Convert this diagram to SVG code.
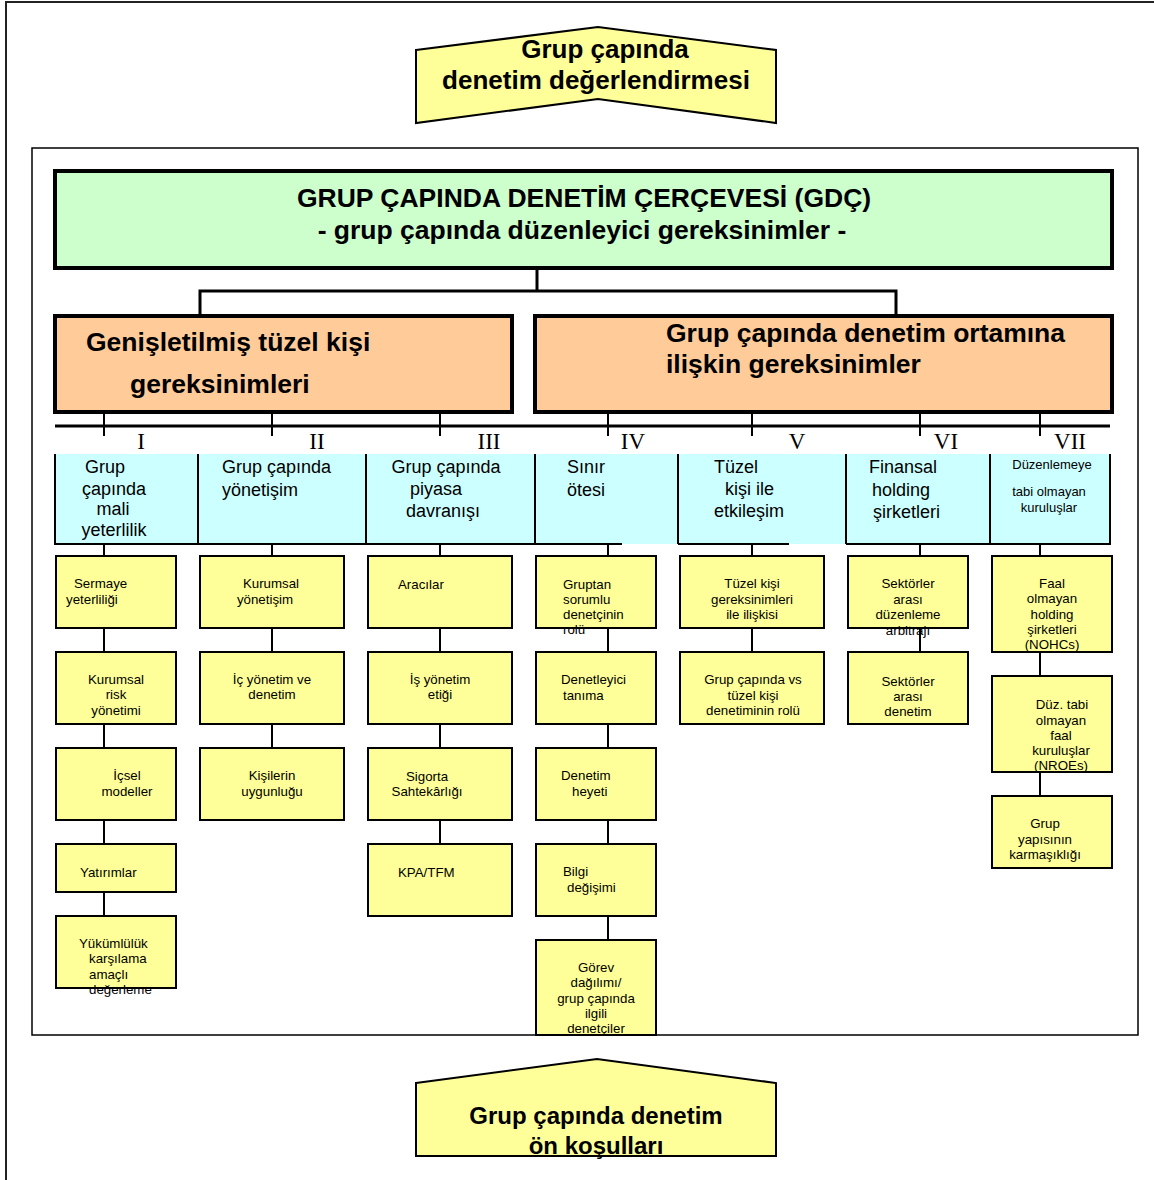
<svg xmlns="http://www.w3.org/2000/svg" width="1154" height="1180" viewBox="0 0 1154 1180">
  <style>
    text { font-family: "Liberation Sans", Arial, sans-serif; fill: #000; }
    .banner { fill: #FFFF99; stroke: #000; stroke-width: 2; }
    .bt { font-size: 26px; font-weight: bold; text-anchor: middle; }
    .bt2 { font-size: 24px; font-weight: bold; text-anchor: middle; }
    .top { fill: #CCFFCC; stroke: #000; stroke-width: 4; }
    .ht { font-size: 26.5px; font-weight: bold; text-anchor: middle; }
    .req { fill: #FFCC99; stroke: #000; stroke-width: 4; }
    .rt { font-size: 26.5px; font-weight: bold; }
    .conn { stroke: #000; stroke-width: 3; fill: none; }
    .thin { stroke: #000; stroke-width: 2; fill: none; }
    .roman { font-family: "Liberation Serif", "Times New Roman", serif; font-size: 23px; text-anchor: middle; }
    .ct { font-size: 18px; }
    .cts { font-size: 13px; text-anchor: middle; }
    .box { fill: #FFFF99; stroke: #000; stroke-width: 2; }
    .fill { fill: #FFFF99; stroke: none; }
    .edge { fill: none; stroke: #000; stroke-width: 2; }
    .t { font-size: 13.3px; }
    .m { text-anchor: middle; }
  </style>

  <!-- page borders -->
  <path d="M6,1180 V2 H1154" fill="none" stroke="#222" stroke-width="2"/>
  <rect x="32" y="148" width="1106" height="887" fill="none" stroke="#000" stroke-width="1.5"/>

  <!-- top banner -->
  <g id="assessment">
    <polygon class="banner" points="416,50 598,27 776,50 776,123 598,99 416,123"/>
    <text class="bt" x="605" y="58">Grup çapında</text>
    <text class="bt" x="596" y="89">denetim değerlendirmesi</text>
  </g>

  <!-- connectors -->
  <g id="connectors">
    <path class="conn" d="M537,268 V291 M200,316 V291 H896 V316"/>
    <path class="conn" d="M55,426 H1110" stroke-width="4"/>
    <path class="thin" d="M104,412 V436 M272,412 V436 M440,412 V436 M608,412 V436 M752,412 V436 M920,412 V436 M1040,412 V436"/>
    <path class="thin" d="M104,544 V916 M272,544 V748 M440,544 V844 M608,544 V940 M752,544 V652 M920,544 V652 M1040,544 V796"/>
  </g>

  <!-- framework header -->
  <g id="gdc">
    <rect class="top" x="55" y="171" width="1057" height="97"/>
    <text class="ht" x="584" y="207">GRUP ÇAPINDA DENETİM ÇERÇEVESİ (GDÇ)</text>
    <text class="ht" x="582" y="239">- grup çapında düzenleyici gereksinimler -</text>
  </g>

  <g id="legal-entity-req">
    <rect class="req" x="55" y="316" width="457" height="96"/>
    <text class="rt" x="86" y="351">Genişletilmiş tüzel kişi</text>
    <text class="rt" x="130" y="393">gereksinimleri</text>
  </g>

  <g id="environment-req">
    <rect class="req" x="535" y="316" width="577" height="96"/>
    <text class="rt" x="666" y="342">Grup çapında denetim ortamına</text>
    <text class="rt" x="666" y="373">ilişkin gereksinimler</text>
  </g>

  <!-- roman numerals -->
  <g id="numerals">
    <text class="roman" x="141" y="449">I</text>
    <text class="roman" x="317" y="449">II</text>
    <text class="roman" x="489" y="449">III</text>
    <text class="roman" x="633" y="449">IV</text>
    <text class="roman" x="797" y="449">V</text>
    <text class="roman" x="946" y="449">VI</text>
    <text class="roman" x="1070" y="449">VII</text>
  </g>

  <!-- column headers -->
  <g id="column-headers">
    <rect x="55" y="454" width="1055" height="90" fill="#CCFFFF"/>
    <path class="thin" d="M55,454 V544 H622 M678,544 H789 M846,544 H1110 V454 M198,454 V544 M366,454 V544 M535,454 V544 M678,454 V544 M846,454 V544 M990,454 V544"/>
  </g>
  <g id="col-1">
    <text class="ct m" x="105" y="473">Grup</text>
    <text class="ct m" x="114" y="495">çapında</text>
    <text class="ct m" x="113" y="515">mali</text>
    <text class="ct m" x="114" y="536">yeterlilik</text>
  </g>
  <g id="col-2">
    <text class="ct" x="222" y="473">Grup çapında</text>
    <text class="ct" x="222" y="496">yönetişim</text>
  </g>
  <g id="col-3">
    <text class="ct m" x="446" y="473">Grup çapında</text>
    <text class="ct m" x="436" y="495">piyasa</text>
    <text class="ct m" x="443" y="517">davranışı</text>
  </g>
  <g id="col-4">
    <text class="ct" x="567" y="473">Sınır</text>
    <text class="ct" x="567" y="496">ötesi</text>
  </g>
  <g id="col-5">
    <text class="ct" x="714" y="473">Tüzel</text>
    <text class="ct" x="725" y="495">kişi ile</text>
    <text class="ct" x="714" y="517">etkileşim</text>
  </g>
  <g id="col-6">
    <text class="ct" x="869" y="473">Finansal</text>
    <text class="ct" x="872" y="496">holding</text>
    <text class="ct" x="873" y="518">şirketleri</text>
  </g>
  <g id="col-7">
    <text class="cts" x="1052" y="469">Düzenlemeye</text>
    <text class="cts" x="1049" y="496">tabi olmayan</text>
    <text class="cts" x="1049" y="512">kuruluşlar</text>
  </g>

  <!-- column I -->
  <g id="sermaye">
    <rect class="box" x="56" y="556" width="120" height="72"/>
    <text class="t" x="74" y="588">Sermaye</text>
    <text class="t" x="66" y="604">yeterliliği</text>
  </g>
  <g id="risk">
    <rect class="box" x="56" y="652" width="120" height="72"/>
    <text class="t m" x="116" y="684">Kurumsal</text>
    <text class="t m" x="116" y="699">risk</text>
    <text class="t m" x="116" y="715">yönetimi</text>
  </g>
  <g id="icsel">
    <rect class="box" x="56" y="748" width="120" height="72"/>
    <text class="t m" x="127" y="780">İçsel</text>
    <text class="t m" x="127" y="796">modeller</text>
  </g>
  <g id="yatirimlar">
    <rect class="box" x="56" y="844" width="120" height="48"/>
    <text class="t" x="80" y="877">Yatırımlar</text>
  </g>
  <g id="yukumluluk">
    <rect class="box" x="56" y="916" width="120" height="72"/>
    <text class="t" x="79" y="948">Yükümlülük</text>
    <text class="t" x="89" y="963">karşılama</text>
    <text class="t" x="89" y="979">amaçlı</text>
    <text class="t" x="89" y="994">değerleme</text>
  </g>

  <!-- column II -->
  <g id="kurumsal-yonetisim">
    <rect class="box" x="200" y="556" width="144" height="72"/>
    <text class="t m" x="271" y="588">Kurumsal</text>
    <text class="t m" x="265" y="604">yönetişim</text>
  </g>
  <g id="ic-yonetim">
    <rect class="box" x="200" y="652" width="144" height="72"/>
    <text class="t m" x="272" y="684">İç yönetim ve</text>
    <text class="t m" x="272" y="699">denetim</text>
  </g>
  <g id="kisiler">
    <rect class="box" x="200" y="748" width="144" height="72"/>
    <text class="t m" x="272" y="780">Kişilerin</text>
    <text class="t m" x="272" y="796">uygunluğu</text>
  </g>

  <!-- column III -->
  <g id="aracilar">
    <rect class="box" x="368" y="556" width="144" height="72"/>
    <text class="t" x="398" y="589">Aracılar</text>
  </g>
  <g id="is-etigi">
    <rect class="box" x="368" y="652" width="144" height="72"/>
    <text class="t m" x="440" y="684">İş yönetim</text>
    <text class="t m" x="440" y="699">etiği</text>
  </g>
  <g id="sigorta">
    <rect class="box" x="368" y="748" width="144" height="72"/>
    <text class="t m" x="427" y="781">Sigorta</text>
    <text class="t m" x="427" y="796">Sahtekârlığı</text>
  </g>
  <g id="kpa">
    <rect class="box" x="368" y="844" width="144" height="72"/>
    <text class="t" x="398" y="877">KPA/TFM</text>
  </g>

  <!-- column IV (label of the first box runs under its border) -->
  <g id="gruptan">
    <rect class="fill" x="536" y="556" width="120" height="72"/>
    <text class="t" x="563" y="589">Gruptan</text>
    <text class="t" x="563" y="604">sorumlu</text>
    <text class="t" x="563" y="619">denetçinin</text>
    <text class="t" x="563" y="634">rolü</text>
    <rect class="edge" x="536" y="556" width="120" height="72"/>
  </g>
  <g id="tanima">
    <rect class="box" x="536" y="652" width="120" height="72"/>
    <text class="t" x="561" y="684">Denetleyici</text>
    <text class="t" x="563" y="700">tanıma</text>
  </g>
  <g id="heyet">
    <rect class="box" x="536" y="748" width="120" height="72"/>
    <text class="t" x="561" y="780">Denetim</text>
    <text class="t" x="572" y="796">heyeti</text>
  </g>
  <g id="bilgi">
    <rect class="box" x="536" y="844" width="120" height="72"/>
    <text class="t" x="563" y="876">Bilgi</text>
    <text class="t" x="567" y="892">değişimi</text>
  </g>
  <g id="gorev">
    <rect class="box" x="536" y="940" width="120" height="95"/>
    <text class="t m" x="596" y="972">Görev</text>
    <text class="t m" x="596" y="987">dağılımı/</text>
    <text class="t m" x="596" y="1003">grup çapında</text>
    <text class="t m" x="596" y="1018">ilgili</text>
    <text class="t m" x="596" y="1033">denetçiler</text>
  </g>

  <!-- column V -->
  <g id="tuzel-iliski">
    <rect class="box" x="680" y="556" width="144" height="72"/>
    <text class="t m" x="752" y="588">Tüzel kişi</text>
    <text class="t m" x="752" y="604">gereksinimleri</text>
    <text class="t m" x="752" y="619">ile ilişkisi</text>
  </g>
  <g id="denetim-rolu">
    <rect class="box" x="680" y="652" width="144" height="72"/>
    <text class="t m" x="753" y="684">Grup çapında vs</text>
    <text class="t m" x="753" y="700">tüzel kişi</text>
    <text class="t m" x="753" y="715">denetiminin rolü</text>
  </g>

  <!-- column VI -->
  <g id="arbitraj">
    <rect class="box" x="848" y="556" width="120" height="72"/>
    <text class="t m" x="908" y="588">Sektörler</text>
    <text class="t m" x="908" y="604">arası</text>
    <text class="t m" x="908" y="619">düzenleme</text>
    <text class="t m" x="908" y="635">arbitrajı</text>
  </g>
  <g id="sektor-denetim">
    <rect class="box" x="848" y="652" width="120" height="72"/>
    <text class="t m" x="908" y="686">Sektörler</text>
    <text class="t m" x="908" y="701">arası</text>
    <text class="t m" x="908" y="716">denetim</text>
  </g>

  <!-- column VII -->
  <g id="nohc">
    <rect class="box" x="992" y="556" width="120" height="96"/>
    <text class="t m" x="1052" y="588">Faal</text>
    <text class="t m" x="1052" y="603">olmayan</text>
    <text class="t m" x="1052" y="619">holding</text>
    <text class="t m" x="1052" y="634">şirketleri</text>
    <text class="t m" x="1052" y="649">(NOHCs)</text>
  </g>
  <g id="nroe">
    <rect class="box" x="992" y="676" width="120" height="96"/>
    <text class="t m" x="1062" y="709">Düz. tabi</text>
    <text class="t m" x="1061" y="725">olmayan</text>
    <text class="t m" x="1061" y="740">faal</text>
    <text class="t m" x="1061" y="755">kuruluşlar</text>
    <text class="t m" x="1061" y="770">(NROEs)</text>
  </g>
  <g id="karmasiklik">
    <rect class="box" x="992" y="796" width="120" height="72"/>
    <text class="t m" x="1045" y="828">Grup</text>
    <text class="t m" x="1045" y="844">yapısının</text>
    <text class="t m" x="1045" y="859">karmaşıklığı</text>
  </g>

  <!-- bottom banner -->
  <g id="preconditions">
    <polygon class="banner" points="416,1083 597,1059 776,1083 776,1156 416,1156"/>
    <text class="bt2" x="596" y="1124">Grup çapında denetim</text>
    <text class="bt2" x="596" y="1154">ön koşulları</text>
  </g>
</svg>
